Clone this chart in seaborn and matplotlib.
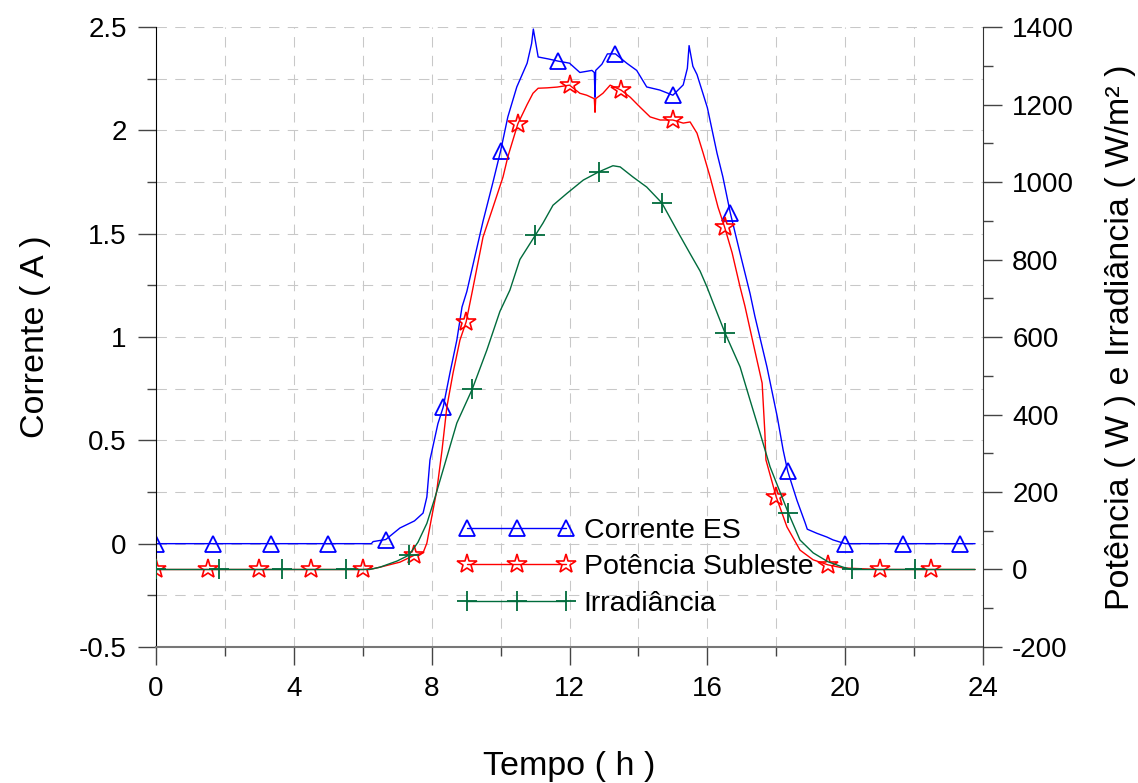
import matplotlib
matplotlib.use('Agg')
import matplotlib.pyplot as plt
from matplotlib.ticker import MultipleLocator, FormatStrFormatter
import numpy as np
import seaborn as sns

# ---------------------------------------------------------------------------
# data
# ---------------------------------------------------------------------------
# Corrente ES (A), left axis
corrente_t = [0, 1.667, 3.333, 5.0, 6.25, 6.3, 6.667, 7.08, 7.5, 7.75, 7.86,
              7.95, 8.18, 8.333, 8.53, 8.73, 8.88, 9.02, 9.31, 9.49, 9.78,
              10.0, 10.21, 10.47, 10.77, 10.9, 10.95, 11.09, 11.4, 11.667,
              12.0, 12.3, 12.65, 12.72, 12.74, 12.76, 12.94, 13.1, 13.333,
              13.66, 13.95, 14.24, 14.62, 15.0, 15.3, 15.42, 15.47, 15.58,
              15.7, 16.0, 16.28, 16.45, 16.667, 16.95, 17.24, 17.38, 17.73,
              18.03, 18.2, 18.333, 18.6, 18.84, 18.9, 19.18, 19.47, 19.65,
              20.0, 21.667, 23.333, 23.77]
corrente = [0, 0, 0, 0, 0, 0.01, 0.02, 0.076, 0.11, 0.148, 0.226,
            0.405, 0.58, 0.66, 0.826, 0.985, 1.145, 1.22, 1.43, 1.56, 1.75,
            1.90, 2.065, 2.21, 2.325, 2.42, 2.49, 2.355, 2.345, 2.335,
            2.325, 2.28, 2.29, 2.28, 2.16, 2.29, 2.32, 2.37, 2.37,
            2.325, 2.29, 2.21, 2.195, 2.17, 2.22, 2.30, 2.41, 2.31,
            2.27, 2.11, 1.89, 1.775, 1.60, 1.405, 1.21, 1.10, 0.855,
            0.613, 0.453, 0.35, 0.21, 0.10, 0.07, 0.05, 0.032, 0.018,
            0, 0, 0, 0]
corrente_marks = [0, 1.667, 3.333, 5.0, 6.667, 8.333, 10.0, 11.667, 13.333,
                  15.0, 16.667, 18.333, 20.0, 21.667, 23.333]

# Potência Subleste (W), right axis
potencia_t = [0, 1.5, 3.0, 4.5, 6.0, 6.3, 6.5, 7.08, 7.5, 7.75, 7.86, 8.0,
              8.15, 8.3, 8.44, 8.62, 8.82, 9.0, 9.17, 9.49, 9.78, 10.07,
              10.21, 10.5, 10.77, 10.94, 11.09, 11.35, 11.64, 12.0, 12.3,
              12.5, 12.72, 12.74, 12.76, 12.97, 13.18, 13.5, 13.76, 14.05,
              14.34, 14.63, 15.0, 15.3, 15.5, 15.7, 15.88, 16.08, 16.31, 16.5,
              16.72, 16.95, 17.09, 17.33, 17.59, 17.67, 17.7, 18.0, 18.31,
              18.69, 19.07, 19.5, 19.94, 21.0, 22.5, 23.77]
potencia = [0, 0, 0, 0, 0, 2, 6, 19, 37, 43, 68, 135,
            205, 308, 419, 507, 592, 639, 714, 858, 935, 1013,
            1065, 1150, 1200, 1229, 1242, 1243, 1245, 1250, 1229,
            1224, 1215, 1180, 1215, 1229, 1250, 1237, 1219, 1193,
            1168, 1160, 1160, 1152, 1155, 1126, 1074, 1013, 935, 884,
            817, 729, 680, 584, 481, 352, 283, 187, 110,
            50, 25, 12, 4, 0, 0, 0]
potencia_marks = [0, 1.5, 3.0, 4.5, 6.0, 7.5, 9.0, 10.5, 12.0, 13.5, 15.0,
                  16.5, 18.0, 19.5, 21.0, 22.5]

# Irradiância (W/m2), right axis
irrad_t = [0, 1.835, 3.67, 5.505, 6.2, 6.5, 7.0, 7.34, 7.6, 7.86, 8.1, 8.44,
           8.73, 9.175, 9.6, 9.98, 10.27, 10.56, 11.01, 11.23, 11.52, 11.93,
           12.4, 12.845, 13.26, 13.47, 13.84, 14.24, 14.68, 15.12, 15.5,
           15.79, 15.99, 16.16, 16.515, 16.95, 17.24, 17.53, 17.82, 18.35,
           18.69, 19.07, 19.5, 19.94, 20.185, 22.02, 23.77]
irrad = [0, 0, 0, 0, 0, 6, 22, 37, 70, 119, 187, 290,
         378, 465, 566, 666, 721, 800, 863, 894, 940, 971,
         1005, 1026, 1042, 1039, 1013, 987, 946, 875, 815,
         770, 729, 690, 610, 523, 437, 352, 265, 146,
         76, 43, 20, 6, 0, 0, 0]
irrad_marks = [0, 1.835, 3.67, 5.505, 7.34, 9.175, 11.01, 12.845, 14.68,
               16.515, 18.35, 20.185, 22.02]


def mark_idx(t, marks):
    # indices of the samples that carry a marker
    t = np.asarray(t)
    return [int(np.argmin(np.abs(t - m))) for m in marks]


if __name__ == '__main__':
    sns.set_style('ticks')
    plt.rcParams['font.family'] = ['Liberation Sans', 'DejaVu Sans']
    plt.rcParams['axes.unicode_minus'] = False
    plt.rcParams['text.color'] = 'black'
    plt.rcParams['axes.labelcolor'] = 'black'

    fig = plt.figure(figsize=(11.38, 7.83), dpi=100)
    ax = fig.add_axes([0.1371, 0.1737, 0.7267, 0.7918])
    ax2 = ax.twinx()

    blue, red, green = '#0000FF', '#FF0000', '#006B3C'

    # current on the left axis
    sns.lineplot(x=corrente_t, y=corrente, ax=ax, color=blue, lw=1,
                 estimator=None, marker='^', markersize=11,
                 markerfacecolor='none', markeredgecolor=blue,
                 markeredgewidth=1.3,
                 markevery=mark_idx(corrente_t, corrente_marks),
                 label='Corrente ES')

    # power and irradiance on the right axis
    sns.lineplot(x=potencia_t, y=potencia, ax=ax2, color=red, lw=1,
                 estimator=None, marker='*', markersize=15,
                 markerfacecolor='none', markeredgecolor=red,
                 markeredgewidth=1.2,
                 markevery=mark_idx(potencia_t, potencia_marks),
                 label='Potência Subleste')
    sns.lineplot(x=irrad_t, y=irrad, ax=ax2, color=green, lw=1,
                 estimator=None, marker='+', markersize=15,
                 markeredgewidth=1.3, markeredgecolor=green,
                 markevery=mark_idx(irrad_t, irrad_marks),
                 label='Irradiância')

    # limits and ticks
    ax.set_xlim(0, 24)
    ax.set_ylim(-0.5, 2.5)
    ax2.set_ylim(-200, 1400)
    ax.xaxis.set_major_locator(MultipleLocator(4))
    ax.xaxis.set_minor_locator(MultipleLocator(2))
    ax.yaxis.set_major_locator(MultipleLocator(0.5))
    ax.yaxis.set_minor_locator(MultipleLocator(0.25))
    ax.yaxis.set_major_formatter(FormatStrFormatter('%g'))
    ax2.yaxis.set_major_locator(MultipleLocator(200))
    ax2.yaxis.set_minor_locator(MultipleLocator(100))

    tick_col = '#444444'
    ax.tick_params(axis='both', which='major', direction='out', length=13,
                   width=1, color=tick_col, labelsize=20, pad=8,
                   labelcolor='black')
    ax.tick_params(axis='both', which='minor', direction='out', length=6.5,
                   width=1, color=tick_col)
    ax2.tick_params(axis='y', which='major', direction='out', length=14,
                    width=1, color=tick_col, labelsize=20, pad=7,
                    labelcolor='black')
    ax2.tick_params(axis='y', which='minor', direction='out', length=7,
                    width=1, color=tick_col)

    # dashed grid from the left axis (every 2 h and every 0.25 A)
    ax.yaxis.grid(which='both', color='#c8c8c8', lw=0.75, dashes=(10, 8))
    ax.xaxis.grid(which='minor', color='#c8c8c8', lw=0.75, dashes=(10, 8))
    for x in [4, 8, 12, 16, 20]:
        ax.axvline(x, color='#c8c8c8', lw=0.75, dashes=(10, 8), zorder=0.5)
    ax.set_axisbelow(True)

    # spines
    for a in (ax, ax2):
        a.spines['top'].set_visible(False)
    ax.spines['right'].set_visible(False)
    ax.spines['left'].set_color('black')
    ax.spines['bottom'].set_color('#777777')
    ax.spines['bottom'].set_linewidth(1.5)
    ax2.spines['left'].set_visible(False)
    ax2.spines['bottom'].set_visible(False)
    ax2.spines['right'].set_color('#333333')

    # axis labels
    ax.set_xlabel('Tempo ( h )', fontsize=24.5, labelpad=35)
    ax.set_ylabel('Corrente ( A )', fontsize=24.5, labelpad=20)
    ax2.set_ylabel('Potência ( W ) e Irradiância ( W/m² )', fontsize=24.5,
                   labelpad=22)

    # combined legend without frame
    h1, l1 = ax.get_legend_handles_labels()
    h2, l2 = ax2.get_legend_handles_labels()
    if ax.get_legend() is not None:
        ax.get_legend().remove()
    ax2.legend(h1 + h2, l1 + l2, loc='upper left',
               bbox_to_anchor=(0.4033, 0.339),
               bbox_transform=fig.transFigure, frameon=False, numpoints=3,
               handlelength=4.05, handletextpad=0.33, labelspacing=0.38,
               borderpad=0, borderaxespad=0, fontsize=20.5)

    fig.savefig('out.png', dpi=100, facecolor='white')
